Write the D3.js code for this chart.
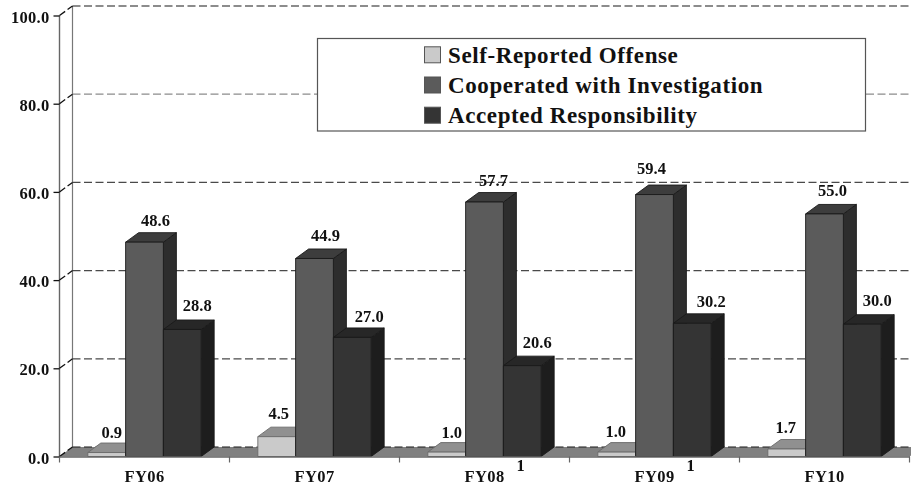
<!DOCTYPE html>
<html><head><meta charset="utf-8">
<script src="https://cdn.jsdelivr.net/npm/d3@7/dist/d3.min.js"></script>
<style>
html,body{margin:0;padding:0;background:#fff}
svg{display:block;filter:blur(0.4px)}
text{font-family:"Liberation Serif",serif;font-weight:bold;fill:#111}
</style></head><body>
<svg id="c" width="911" height="491"></svg>
<script>
const categories = ["FY06","FY07","FY08","FY09","FY10"];
const seriesNames = ["Self-Reported Offense","Cooperated with Investigation","Accepted Responsibility"];
const selfReported = [0.9,4.5,1.0,1.0,1.7];
const cooperated = [48.6,44.9,57.7,59.4,55.0];
const accepted = [28.8,27.0,20.6,30.2,30.0];
const yTicks = [0,20,40,60,80,100];
const strayLabels = [["FY08","1"],["FY09","1"]];
// hand placement of the value labels relative to each bar's centre and back-top edge
const labelNudgeX = [[5,2,5,-1,-1],[11,11,9,-3,8],[15,17,15,19,15]];
const labelNudgeY = [[-5.5,-8,-5,-6,-7],[-6.5,-8,-7,-11,-8],[-9,-6,-8,-6.5,-9]];
const faces = [
  {front:"#cacaca",top:"#909090",side:"#6e6e6e",line:"#6a6a6a"},
  {front:"#5b5b5b",top:"#3d3d3d",side:"#2d2d2d",line:"#1a1a1a"},
  {front:"#343434",top:"#272727",side:"#1d1d1d",line:"#1a1a1a"}
];
const series = [selfReported,cooperated,accepted];

const svg = d3.select("#c");
const dx = 13, dy = -9.5;
const x = d3.scaleBand().domain(categories).range([59.5,909.5]);
const inner = d3.scaleBand().domain(d3.range(3)).range([x.bandwidth()/6, x.bandwidth()*5/6]);
const y = d3.scaleLinear().domain([0,100]).range([456.5,15.5]);
const y0 = y(0), xL = x.range()[0], xR = x.range()[1];
const gridColor = d => d===100||d===0 ? "#1a1a1a" : d===80 ? "#8c8c8c" : "#4a4a4a";

// walls
svg.append("line").attr("x1",xL+dx).attr("x2",xL+dx).attr("y1",y(100)+dy).attr("y2",y0+dy).attr("stroke","#777").attr("stroke-width",1.2);
svg.append("line").attr("x1",xL).attr("x2",xL).attr("y1",y(100)).attr("y2",y0+1).attr("stroke","#666").attr("stroke-width",1.4);

// floor
svg.append("polygon")
  .attr("points",[[xL,y0],[xL+dx,y0+dy],[xR+dx,y0+dy],[xR,y0]].join(" "))
  .attr("fill","#808080");

// gridlines
svg.selectAll(".grid").data(yTicks).join("line")
  .attr("x1",xL+dx).attr("x2",911)
  .attr("y1",d=>y(d)+dy).attr("y2",d=>y(d)+dy)
  .attr("stroke",gridColor)
  .attr("stroke-width",1.2).attr("stroke-dasharray","8 3.5");

// connectors
svg.selectAll(".conn").data(yTicks).join("line")
  .attr("x1",xL).attr("x2",xL+dx).attr("y1",d=>y(d)).attr("y2",d=>y(d)+dy)
  .attr("stroke","#111").attr("stroke-width",1.3).attr("stroke-dasharray","7 3");

const yAxis = d3.axisLeft(y).tickValues(yTicks).tickFormat(d3.format(".1f")).tickSize(6).tickPadding(4);
const gy = svg.append("g").attr("transform",`translate(${xL},0)`).call(yAxis);
gy.select(".domain").remove();
gy.selectAll(".tick line").attr("stroke","#111").attr("stroke-width",1.3);
gy.selectAll("text").attr("font-size",16.5).attr("letter-spacing",0.3).attr("fill","#111").attr("dy","0.4em");

// bars
categories.forEach((c,i)=>{
  series.forEach((vals,s)=>{
    const v = vals[i], l = x(c)+inner(s), w = inner.bandwidth(), t = y(v), f = faces[s];
    const g = svg.append("g").attr("stroke",f.line).attr("stroke-width",0.9).attr("stroke-linejoin","round");
    g.append("polygon").attr("fill",f.side)
      .attr("points",[[l+w,t],[l+w+dx,t+dy],[l+w+dx,y0+dy],[l+w,y0]].join(" "));
    g.append("polygon").attr("fill",f.top)
      .attr("points",[[l,t],[l+dx,t+dy],[l+w+dx,t+dy],[l+w,t]].join(" "));
    g.append("rect").attr("x",l).attr("y",t).attr("width",w).attr("height",y0-t).attr("fill",f.front);
  });
});
// value labels
series.forEach((vals,s)=>{
  categories.forEach((c,i)=>{
    svg.append("text")
      .attr("x",x(c)+inner(s)+inner.bandwidth()/2+labelNudgeX[s][i])
      .attr("y",y(vals[i])+dy+labelNudgeY[s][i])
      .attr("text-anchor","middle").attr("font-size",16.5)
      .text(d3.format(".1f")(vals[i]));
  });
});

// baseline and x axis
const xAxis = d3.axisBottom(x).tickSize(0).tickPadding(14);
const gx = svg.append("g").attr("transform",`translate(0,${y0})`).call(xAxis);
gx.select(".domain").attr("stroke","#666").attr("stroke-width",1.3);
gx.selectAll("text").attr("font-size",16.5).attr("letter-spacing",0.4).attr("fill","#111");
svg.selectAll(".xt").data(x.domain().map(d=>x(d)).concat([xR])).join("line")
  .attr("x1",d=>d).attr("x2",d=>d).attr("y1",y0).attr("y2",y0+6).attr("stroke","#666").attr("stroke-width",1.2);

// stray labels
svg.selectAll(".stray").data(strayLabels).join("text")
  .attr("x",d=>x(d[0])+x.bandwidth()/2+36).attr("y",y0+14).attr("text-anchor","middle").attr("font-size",16.5).text(d=>d[1]);

// legend
const lg = svg.append("g").attr("transform","translate(317.5,38.5)");
lg.append("rect").attr("width",548).attr("height",92.5).attr("fill","#fff").attr("stroke","#555").attr("stroke-width",1.2);
seriesNames.forEach((n,i)=>{
  const cy = 16.3+i*30.2;
  lg.append("rect").attr("x",107).attr("y",cy-8).attr("width",16).attr("height",16).attr("fill",faces[i].front).attr("stroke","#555");
  lg.append("text").attr("x",130.5).attr("y",cy+8).attr("font-size",23).attr("letter-spacing",0.6).text(n);
});
</script></body></html>
